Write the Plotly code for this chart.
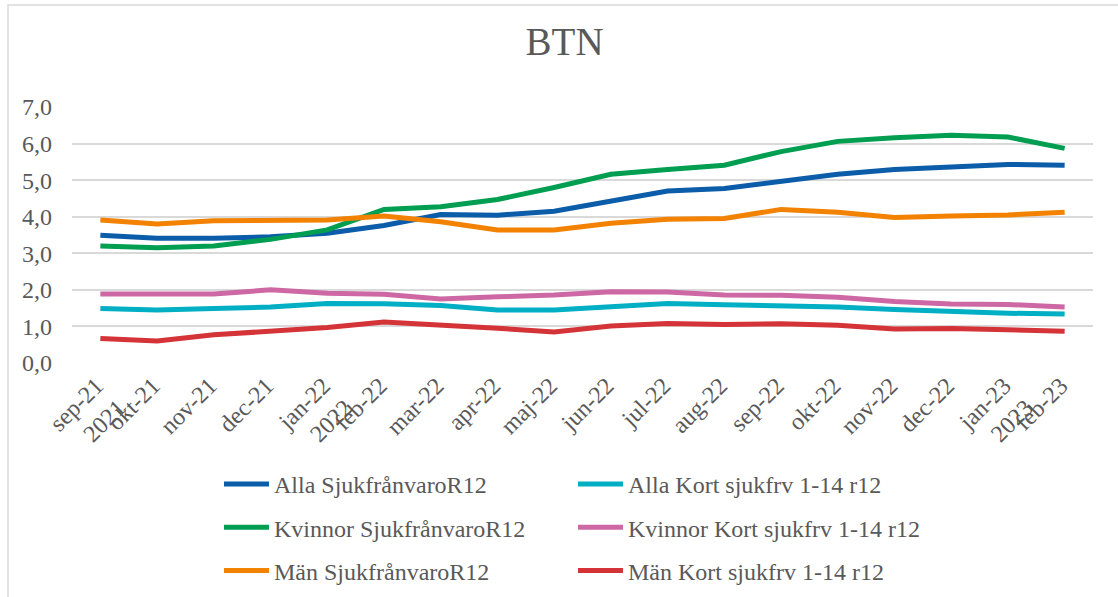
import plotly.graph_objects as go

months = ["sep-21", "okt-21", "nov-21", "dec-21", "jan-22", "feb-22", "mar-22", "apr-22", "maj-22",
          "jun-22", "jul-22", "aug-22", "sep-22", "okt-22", "nov-22", "dec-22", "jan-23", "feb-23"]
tick_labels = ["sep-21<br>2021", "okt-21", "nov-21", "dec-21", "jan-22<br>2022", "feb-22", "mar-22",
               "apr-22", "maj-22", "jun-22", "jul-22", "aug-22", "sep-22", "okt-22", "nov-22",
               "dec-22", "jan-23<br>2023", "feb-23"]

alla_sjuk = [3.49, 3.41, 3.41, 3.45, 3.55, 3.76, 4.06, 4.04, 4.15, 4.41, 4.70, 4.77, 4.97, 5.16, 5.29, 5.37, 5.43, 5.41]
alla_kort = [1.49, 1.45, 1.49, 1.53, 1.63, 1.62, 1.57, 1.45, 1.45, 1.55, 1.63, 1.59, 1.56, 1.53, 1.46, 1.40, 1.36, 1.34]
kvinnor_sjuk = [3.20, 3.15, 3.20, 3.38, 3.64, 4.20, 4.27, 4.47, 4.80, 5.16, 5.29, 5.41, 5.78, 6.06, 6.16, 6.23, 6.18, 5.87]
kvinnor_kort = [1.89, 1.88, 1.89, 2.00, 1.91, 1.88, 1.75, 1.81, 1.86, 1.95, 1.94, 1.86, 1.85, 1.80, 1.68, 1.61, 1.60, 1.53]
man_sjuk = [3.91, 3.80, 3.89, 3.89, 3.91, 4.02, 3.86, 3.64, 3.64, 3.82, 3.93, 3.95, 4.20, 4.12, 3.98, 4.02, 4.05, 4.12]
man_kort = [0.67, 0.60, 0.77, 0.87, 0.97, 1.12, 1.05, 0.95, 0.85, 1.01, 1.08, 1.05, 1.07, 1.03, 0.93, 0.94, 0.91, 0.87]

series = [
    ("Alla SjukfrånvaroR12", alla_sjuk, "#0B5DAA", "legend"),
    ("Alla Kort sjukfrv 1-14 r12", alla_kort, "#00AFC4", "legend2"),
    ("Kvinnor SjukfrånvaroR12", kvinnor_sjuk, "#009E51", "legend"),
    ("Kvinnor Kort sjukfrv 1-14 r12", kvinnor_kort, "#CD68A4", "legend2"),
    ("Män SjukfrånvaroR12", man_sjuk, "#F28200", "legend"),
    ("Män Kort sjukfrv 1-14 r12", man_kort, "#D43337", "legend2"),
]

FONT = "Liberation Serif, Times New Roman, serif"
GREY = "#595959"

fig = go.Figure()
for name, vals, color, leg in series:
    fig.add_trace(go.Scatter(
        x=months, y=vals, name=name, mode="lines",
        line=dict(color=color, width=5),
        legend=leg, legendgroup=name,
    ))

W, H = 1118, 597
L, R, T, B = 72, 25, 107, 234
pw, ph = W - L - R, H - T - B

def px_x(p):
    return (p - L) / pw

def px_y(p):
    return (H - B - p) / ph

fig.update_layout(
    width=W, height=H,
    margin=dict(l=L, r=R, t=T, b=B, autoexpand=False),
    paper_bgcolor="white", plot_bgcolor="white",
    font=dict(family=FONT, color=GREY, size=24),
    title=dict(text="BTN", x=0.505, xanchor="center", xref="container",
               y=1 - 41 / H, yanchor="middle", yref="container",
               font=dict(family=FONT, size=39, color=GREY)),
    xaxis=dict(type="category", categoryorder="array", categoryarray=months,
               range=[-0.5, len(months) - 0.5],
               tickvals=months, ticktext=tick_labels, tickangle=-45,
               showgrid=False, zeroline=False, showline=False, ticks="",
               ticklabelstandoff=3, ticklabelshift=-4,
               tickfont=dict(family=FONT, size=24, color=GREY)),
    yaxis=dict(range=[0, 7], tickvals=[0, 1, 2, 3, 4, 5, 6, 7],
               ticktext=["0,0", "1,0", "2,0", "3,0", "4,0", "5,0", "6,0", "7,0"],
               showgrid=True, gridcolor="#D9D9D9", gridwidth=1.5,
               zeroline=False, showline=False, ticks="", ticklabelstandoff=19,
               tickfont=dict(family=FONT, size=24, color=GREY)),
    legend=dict(x=px_x(219), y=px_y(462), xanchor="left", yanchor="top",
                orientation="v", tracegroupgap=9, itemwidth=45,
                bgcolor="rgba(0,0,0,0)", font=dict(family=FONT, size=24, color=GREY)),
    legend2=dict(x=px_x(573), y=px_y(462), xanchor="left", yanchor="top",
                 orientation="v", tracegroupgap=9, itemwidth=45,
                 bgcolor="rgba(0,0,0,0)", font=dict(family=FONT, size=24, color=GREY)),
    shapes=[dict(type="rect", xref="paper", yref="paper",
                 x0=px_x(8), x1=px_x(1130), y0=px_y(610), y1=px_y(5),
                 line=dict(color="#D9D9D9", width=1.5), layer="below")],
    showlegend=True,
)

fig.write_html("out.html", config={"displayModeBar": False},
               post_script="document.body.style.margin='0';")
